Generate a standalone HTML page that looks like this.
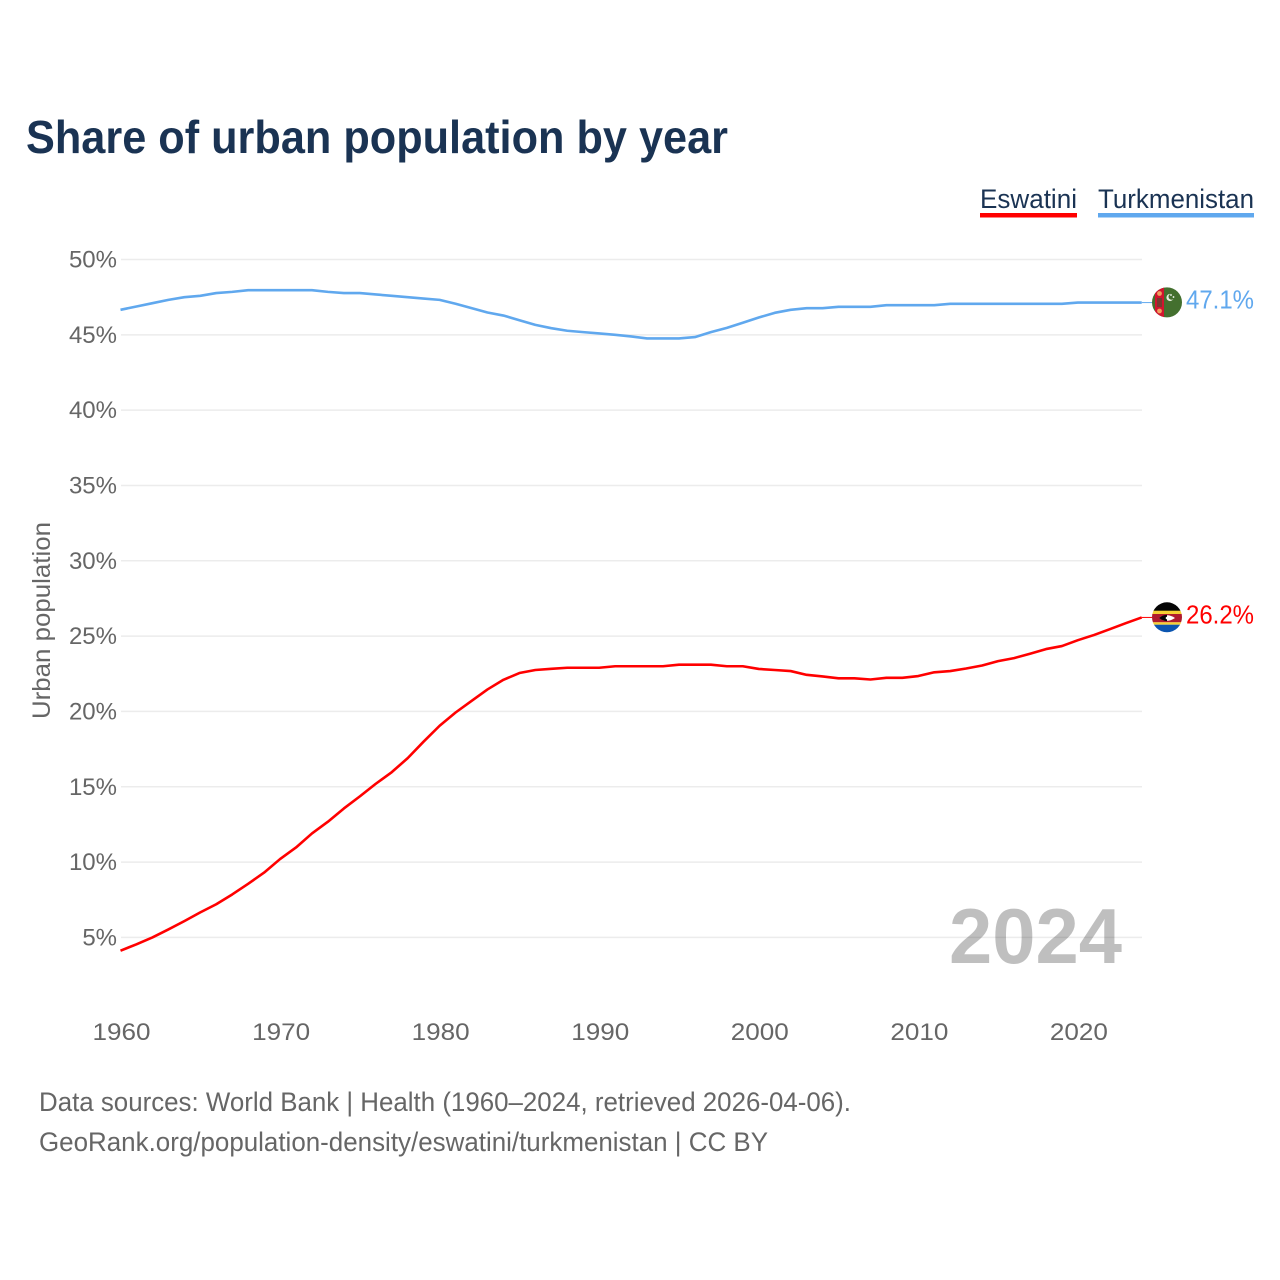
<!DOCTYPE html>
<html lang="en">
<head>
<meta charset="utf-8">
<title>Share of urban population by year</title>
<style>
  html, body { margin: 0; padding: 0; background: #fff; }
  svg { display: block; font-family: "Liberation Sans", Arial, sans-serif; }
</style>
</head>
<body>
<svg id="chart" xmlns="http://www.w3.org/2000/svg" width="1280" height="1280" viewBox="0 0 1280 1280">
  <defs>
    <clipPath id="clip-tm"><circle cx="1167" cy="302.4" r="15"/></clipPath>
    <clipPath id="clip-sz"><circle cx="1167" cy="617.3" r="15"/></clipPath>
  </defs>
  <rect x="0" y="0" width="1280" height="1280" fill="#fff"/>
  <text x="26" y="153" font-size="46" font-weight="700" fill="#1a3353" textLength="702" lengthAdjust="spacingAndGlyphs">Share of urban population by year</text>

  <g>
    <text x="980" y="208" font-size="27" fill="#1a3353" textLength="97" lengthAdjust="spacingAndGlyphs">Eswatini</text>
    <rect x="980" y="213" width="97" height="4.5" fill="#ff0000"/>
  </g>
  <g>
    <text x="1098" y="208" font-size="27" fill="#1a3353" textLength="156" lengthAdjust="spacingAndGlyphs">Turkmenistan</text>
    <rect x="1098" y="213" width="156" height="4.5" fill="#60a8ee"/>
  </g>

  <g id="grid"></g>
  <g id="y-ticks"></g>
  <g id="x-ticks"></g>
  <text transform="translate(50,620.5) rotate(-90)" text-anchor="middle" font-size="25" fill="#666" textLength="197" lengthAdjust="spacingAndGlyphs">Urban population</text>
  <g id="series"></g>

  <text x="1122" y="963" text-anchor="end" font-size="78" font-weight="700" fill="#000" fill-opacity="0.25" textLength="173" lengthAdjust="spacingAndGlyphs">2024</text>

  <g clip-path="url(#clip-tm)">
    <rect x="1152" y="287" width="30" height="31" fill="#44702f"/>
    <rect x="1155" y="287" width="9" height="31" fill="#d2152f"/>
    <circle cx="1159.5" cy="293.5" r="2.4" fill="#f0a060"/>
    <rect x="1157" y="298" width="5" height="9" fill="#7a3a30"/>
    <circle cx="1159.5" cy="311" r="2.4" fill="#f0a060"/>
    <circle cx="1170" cy="297.5" r="3.6" fill="#e8efe0"/>
    <circle cx="1171.5" cy="296.8" r="3" fill="#44702f"/>
    <circle cx="1171" cy="295" r="0.9" fill="#fff"/>
    <circle cx="1173.5" cy="297" r="0.9" fill="#fff"/>
  </g>
  <g clip-path="url(#clip-sz)">
    <rect x="1152" y="602" width="30" height="9" fill="#050505"/>
    <rect x="1152" y="610.7" width="30" height="3.3" fill="#f5d033"/>
    <rect x="1152" y="614" width="30" height="8.3" fill="#b01c2e"/>
    <rect x="1152" y="622.3" width="30" height="2.4" fill="#f5d033"/>
    <rect x="1152" y="624.7" width="30" height="9" fill="#0b55b0"/>
    <path d="M1159 618 Q1167 612.5 1175 618 Q1167 623.5 1159 618Z" fill="#fff"/>
    <path d="M1159 618 Q1163 615 1167 614.8 L1167 621.2 Q1163 621 1159 618Z" fill="#050505"/>
    <circle cx="1167" cy="618" r="1.3" fill="#fff"/>
  </g>

  <g id="end-labels"></g>

  <text x="39" y="1111" font-size="27" fill="#666" textLength="812" lengthAdjust="spacingAndGlyphs">Data sources: World Bank | Health (1960–2024, retrieved 2026-04-06).</text>
  <text x="39" y="1151" font-size="27" fill="#666" textLength="729" lengthAdjust="spacingAndGlyphs">GeoRank.org/population-density/eswatini/turkmenistan | CC BY</text>
</svg>
<script>
const years = [1960,1961,1962,1963,1964,1965,1966,1967,1968,1969,1970,1971,1972,1973,1974,1975,1976,1977,1978,1979,1980,1981,1982,1983,1984,1985,1986,1987,1988,1989,1990,1991,1992,1993,1994,1995,1996,1997,1998,1999,2000,2001,2002,2003,2004,2005,2006,2007,2008,2009,2010,2011,2012,2013,2014,2015,2016,2017,2018,2019,2020,2021,2022,2023,2024];
const eswatini = [4.12,4.54,5.0,5.53,6.08,6.66,7.2,7.85,8.56,9.3,10.2,10.97,11.9,12.68,13.56,14.36,15.2,15.97,16.9,18.0,19.05,19.93,20.7,21.46,22.1,22.55,22.75,22.83,22.9,22.9,22.9,23.0,23.0,23.0,23.0,23.1,23.1,23.1,23.0,23.0,22.82,22.75,22.68,22.43,22.32,22.2,22.2,22.12,22.23,22.23,22.35,22.6,22.68,22.85,23.05,23.34,23.54,23.83,24.14,24.34,24.73,25.07,25.46,25.86,26.24];
const turkmenistan = [46.66,46.88,47.1,47.32,47.5,47.59,47.77,47.85,47.96,47.96,47.96,47.96,47.96,47.85,47.77,47.77,47.68,47.59,47.5,47.41,47.32,47.06,46.77,46.48,46.28,45.97,45.66,45.44,45.27,45.18,45.09,45.0,44.89,44.76,44.76,44.76,44.85,45.18,45.46,45.8,46.15,46.46,46.66,46.77,46.77,46.86,46.86,46.86,46.97,46.97,46.97,46.97,47.06,47.06,47.06,47.06,47.06,47.06,47.06,47.06,47.14,47.14,47.14,47.14,47.14];
const yTickValues = [5,10,15,20,25,30,35,40,45,50];
const xTickValues = [1960,1970,1980,1990,2000,2010,2020];

const NS = 'http://www.w3.org/2000/svg';
const xScale = function (year) { return 120.5 + (year - 1960) * (1141.7 - 120.5) / 64; };
const yScale = function (value) { return 937.4 - (value - 5) * (937.4 - 259.5) / 45; };

function make(tag, parent, attrs, text) {
  const el = document.createElementNS(NS, tag);
  Object.keys(attrs).forEach(function (k) { el.setAttribute(k, attrs[k]); });
  if (text !== undefined) el.textContent = text;
  parent.appendChild(el);
  return el;
}

const gridGroup = document.getElementById('grid');
const yGroup = document.getElementById('y-ticks');
yTickValues.forEach(function (v) {
  const line = make('line', gridGroup, { x1: 121, x2: 1142, y1: yScale(v), y2: yScale(v), stroke: '#ececec', 'stroke-width': 1.5 });
  
  
  const label = make('text', yGroup, { x: 117, y: yScale(v) + 8, 'text-anchor': 'end', 'font-size': 24, fill: '#666' }, v + '%');
  
  
});

const xGroup = document.getElementById('x-ticks');
xTickValues.forEach(function (year) {
  const label = make('text', xGroup, { x: xScale(year) + 1, y: 1040, 'text-anchor': 'middle', 'font-size': 24, fill: '#666', textLength: 58, lengthAdjust: 'spacingAndGlyphs' }, String(year));
  
  
});

const seriesGroup = document.getElementById('series');
function pathFor(values) {
  return values.map(function (v, i) { return (i ? 'L' : 'M') + xScale(years[i]).toFixed(2) + ' ' + yScale(v).toFixed(2); }).join(' ');
}

const eswatiniLine = make('path', seriesGroup, { d: pathFor(eswatini), fill: 'none', stroke: '#ff0000', 'stroke-width': 2.6, 'stroke-linejoin': 'round' });


const turkmenLine = make('path', seriesGroup, { d: pathFor(turkmenistan), fill: 'none', stroke: '#60a8ee', 'stroke-width': 2.6, 'stroke-linejoin': 'round' });



const lastEswatini = eswatini[eswatini.length - 1];
const lastTurkmen = turkmenistan[turkmenistan.length - 1];
const eswatiniLead = make('line', seriesGroup, { x1: xScale(2024), x2: 1152, y1: yScale(lastEswatini), y2: yScale(lastEswatini), stroke: '#ff0000', 'stroke-width': 1 });


const turkmenLead = make('line', seriesGroup, { x1: xScale(2024), x2: 1152, y1: yScale(lastTurkmen), y2: yScale(lastTurkmen), stroke: '#60a8ee', 'stroke-width': 1 });



const endGroup = document.getElementById('end-labels');
const eswatiniEnd = make('text', endGroup, { x: 1186, y: yScale(lastEswatini) + 6, 'font-size': 26, fill: '#ff0000', textLength: 68, lengthAdjust: 'spacingAndGlyphs' }, lastEswatini.toFixed(1) + '%');


const turkmenEnd = make('text', endGroup, { x: 1186, y: yScale(lastTurkmen) + 6, 'font-size': 26, fill: '#60a8ee', textLength: 68, lengthAdjust: 'spacingAndGlyphs' }, lastTurkmen.toFixed(1) + '%');


</script>
</body>
</html>
